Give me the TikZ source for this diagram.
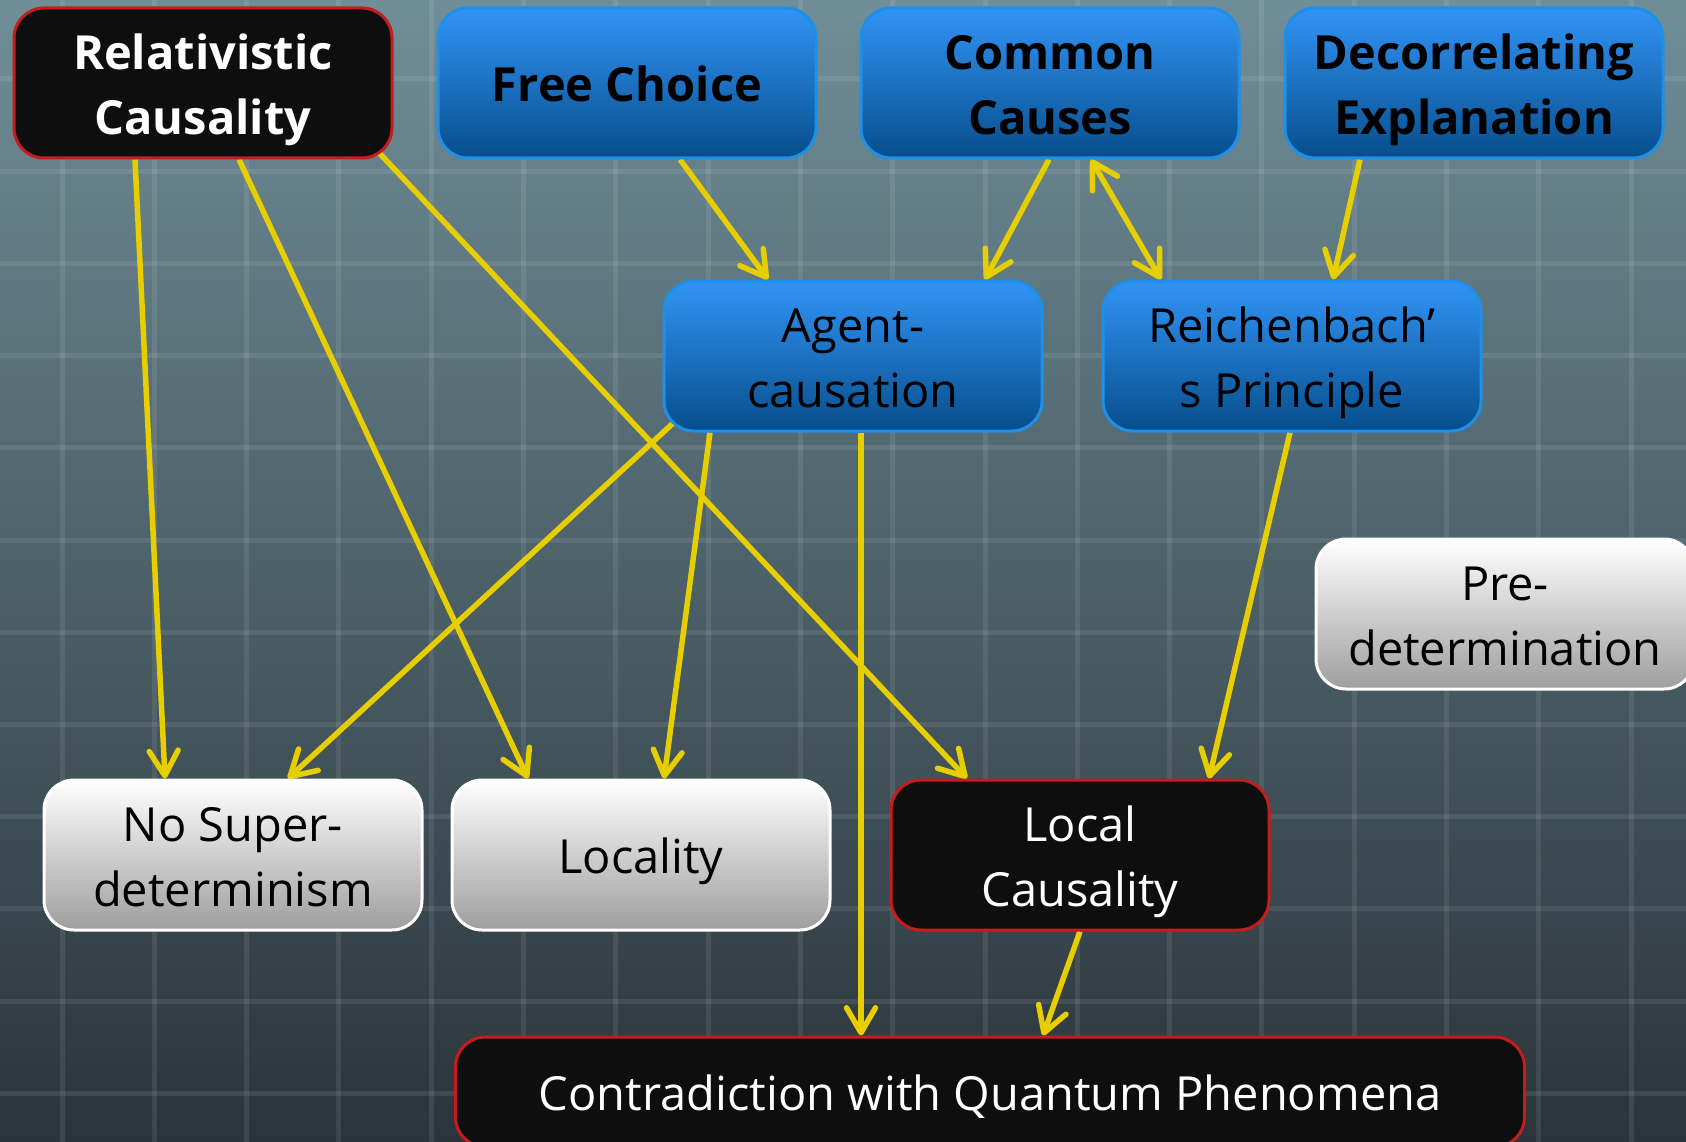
\documentclass[tikz,border=0pt]{standalone}
\usepackage{fontspec}
\setmainfont{Open Sans}
\usetikzlibrary{arrows.meta}
\pgfdeclarelayer{edges}
\pgfsetlayers{edges,main}

\definecolor{bgtop}{RGB}{112,142,152}
\definecolor{bgbot}{RGB}{42,52,58}
\definecolor{arrowyellow}{RGB}{230,206,0}
\definecolor{boxred}{RGB}{200,28,28}
\definecolor{boxblack}{RGB}{14,14,14}
\definecolor{bluetop}{RGB}{50,148,246}
\definecolor{bluebot}{RGB}{6,78,140}
\definecolor{blueedge}{RGB}{30,144,232}
\definecolor{greybot}{RGB}{158,158,158}

% box text: centred lines on struts, set a little below the middle
\newcommand\boxlabel[1]{\raisebox{-6pt}[\height][\depth]{\begin{tabular}{@{}c@{}}#1\end{tabular}}}

\tikzset{
  box/.style={rounded corners=30pt, minimum width=378pt, minimum height=150pt,
    line width=3pt, inner sep=0pt,
    font=\fontsize{47}{64.5}\selectfont},
  heading/.style={font=\fontsize{47}{64.5}\selectfont\bfseries},
  bluebox/.style={box, draw=blueedge, top color=bluetop, bottom color=bluebot, text=black},
  darkbox/.style={box, draw=boxred, fill=boxblack, text=white},
  lightbox/.style={box, draw=white, top color=white, bottom color=greybot, text=black},
  link/.style={draw=arrowyellow, line width=5.5pt, -{Straight Barb[length=25pt, width=29pt, round]}},
  biglink/.style={draw=arrowyellow, line width=5.5pt,
    {Straight Barb[length=25pt, width=29pt, round]}-{Straight Barb[length=25pt, width=29pt, round]}},
  gridline/.style={white, opacity=0.085, line width=5pt},
}

\begin{document}
\begin{tikzpicture}[x=1pt, y=-1pt]
\useasboundingbox (0,0) rectangle (1686,1142);

% backdrop: vertical gradient with a square grid
\begin{pgfonlayer}{edges}
  \shade[top color=bgtop, bottom color=bgbot] (0,0) rectangle (1686,1142);
  \foreach \i in {0,...,17}
    \draw[gridline] ({62+92.3*\i},0) -- ({62+92.3*\i},1142);
  \foreach \j in {0,...,11}
    \draw[gridline] (0,{79+92.2*\j}) -- (1686,{79+92.2*\j});
\end{pgfonlayer}

% top row
\node[darkbox, heading] (rel)    at (203,83)  {\boxlabel{Relativistic\\Causality}};
\node[bluebox, heading] (free)   at (627,83)  {\boxlabel{Free Choice}};
\node[bluebox, heading] (common) at (1050,83) {\boxlabel{Common\\Causes}};
\node[bluebox, heading] (decor)  at (1474,83) {\boxlabel{Decorrelating\\Explanation}};

% second row
\node[bluebox] (agent) at (853,356)  {\boxlabel{Agent-\\causation}};
\node[bluebox] (reich) at (1292,356) {\boxlabel{Reichenbach’\\s Principle}};

% side box
\node[lightbox] (pre) at (1505,614) {\boxlabel{Pre-\\determination}};

% third row
\node[lightbox] (nosuper)  at (233,855)  {\boxlabel{No Super-\\determinism}};
\node[lightbox] (locality) at (641,855)  {\boxlabel{Locality}};
\node[darkbox]  (localc)   at (1080,855) {\boxlabel{Local\\Causality}};

% conclusion
\node[darkbox, minimum width=1069pt, minimum height=110pt] (contra) at (990,1092)
  {\boxlabel{Contradiction with Quantum Phenomena}};

% implications
\begin{pgfonlayer}{edges}
  \draw[link] ([xshift=-68pt]rel.south) -- ([xshift=-68pt]nosuper.north);
  \draw[link] ([xshift=36pt]rel.south) -- ([xshift=-113pt]locality.north);
  \draw[link] ([xshift=173pt,yshift=10pt]rel.south) -- ([xshift=-113pt]localc.north);
  \draw[link] ([xshift=53pt]free.south) -- ([xshift=-85pt]agent.north);
  \draw[link] ([xshift=-1pt]common.south) -- ([xshift=132pt]agent.north);
  \draw[biglink] ([xshift=41pt]common.south) -- ([xshift=-131pt]reich.north);
  \draw[link] ([xshift=-114pt]decor.south) -- ([xshift=41pt]reich.north);
  \draw[link] ([xshift=20pt,yshift=18pt]agent.south west) -- ([xshift=55pt]nosuper.north);
  \draw[link] ([xshift=-143pt]agent.south) -- ([xshift=23pt]locality.north);
  \draw[link] ([xshift=8pt]agent.south) -- ([xshift=-129pt]contra.north);
  \draw[link] ([xshift=-2pt]reich.south) -- ([xshift=129pt]localc.north);
  \draw[link] (localc.south) -- ([xshift=53pt]contra.north);
\end{pgfonlayer}
\end{tikzpicture}
\end{document}
